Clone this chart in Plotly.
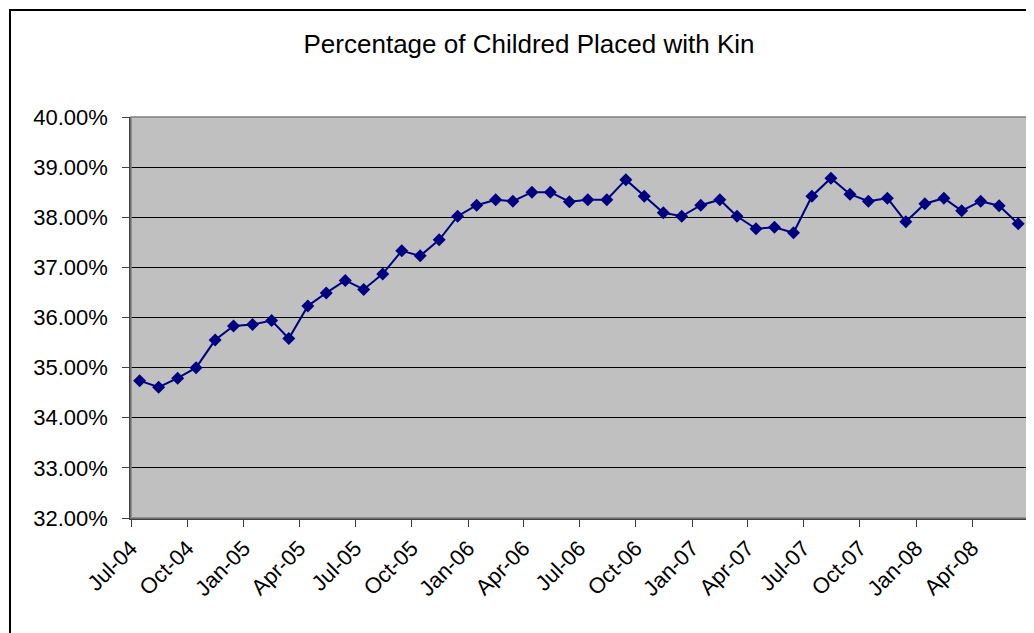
import plotly.graph_objs as go

# monthly data points (plotted mid-month on a date axis)
months = [
    '2004-07', '2004-08', '2004-09', '2004-10', '2004-11', '2004-12',
    '2005-01', '2005-02', '2005-03', '2005-04', '2005-05', '2005-06',
    '2005-07', '2005-08', '2005-09', '2005-10', '2005-11', '2005-12',
    '2006-01', '2006-02', '2006-03', '2006-04', '2006-05', '2006-06',
    '2006-07', '2006-08', '2006-09', '2006-10', '2006-11', '2006-12',
    '2007-01', '2007-02', '2007-03', '2007-04', '2007-05', '2007-06',
    '2007-07', '2007-08', '2007-09', '2007-10', '2007-11', '2007-12',
    '2008-01', '2008-02', '2008-03', '2008-04', '2008-05', '2008-06',
]
pct_kin = [
    0.3474, 0.3461, 0.3479, 0.3500, 0.3555, 0.3583,
    0.3586, 0.3594, 0.3558, 0.3623, 0.3649, 0.3674,
    0.3656, 0.3687, 0.3733, 0.3723, 0.3755, 0.3802,
    0.3824, 0.3835, 0.3832, 0.3850, 0.3850, 0.3831,
    0.3835, 0.3835, 0.3875, 0.3842, 0.3809, 0.3802,
    0.3824, 0.3835, 0.3802, 0.3777, 0.3780, 0.3769,
    0.3842, 0.3878, 0.3846, 0.3832, 0.3838, 0.3791,
    0.3827, 0.3838, 0.3813, 0.3832, 0.3823, 0.3787,
]

tick_dates = ['2004-07-01', '2004-10-01', '2005-01-01', '2005-04-01', '2005-07-01',
              '2005-10-01', '2006-01-01', '2006-04-01', '2006-07-01', '2006-10-01',
              '2007-01-01', '2007-04-01', '2007-07-01', '2007-10-01', '2008-01-01',
              '2008-04-01']
tick_labels = ['Jul-04', 'Oct-04', 'Jan-05', 'Apr-05', 'Jul-05', 'Oct-05', 'Jan-06',
               'Apr-06', 'Jul-06', 'Oct-06', 'Jan-07', 'Apr-07', 'Jul-07', 'Oct-07',
               'Jan-08', 'Apr-08']

FONT = 'Liberation Sans, Arial, sans-serif'
NAVY = '#000080'

# page has an 8px body margin, so the figure is 8px smaller than the window
W, H = 1026, 625

fig = go.Figure()
fig.add_trace(go.Scatter(
    x=[m + '-15' for m in months],
    y=pct_kin,
    mode='lines+markers',
    line=dict(color=NAVY, width=2),
    marker=dict(symbol='diamond', size=10, color=NAVY),
    showlegend=False
))

# outer chart frame + plot area border
fig.add_shape(type='rect', xref='paper', yref='paper',
              x0=-0.1349, x1=1.2, y0=-0.5, y1=1.267,
              line=dict(color='black', width=2), layer='above')
fig.add_shape(type='rect', xref='paper', yref='paper',
              x0=0, x1=1, y0=0, y1=1,
              line=dict(color='#808080', width=1.5), layer='above')

fig.update_layout(
    width=W, height=H,
    title=dict(text='Percentage of Childred Placed with Kin',
               x=521 / W, xanchor='center', xref='container',
               y=1 - 36 / H, yanchor='middle', yref='container',
               font=dict(family=FONT, size=26, color='black')),
    font=dict(family=FONT, size=22, color='black'),
    paper_bgcolor='white',
    plot_bgcolor='#C0C0C0',
    margin={'l': 123, 'r': 6, 't': 109, 'b': 115},
    xaxis=dict(
        type='date',
        range=['2004-07-01', '2008-07-01'],
        tickmode='array', tickvals=tick_dates, ticktext=tick_labels,
        tickangle=-45,
        ticks='outside', ticklen=7, tickcolor='#404040',
        minor=dict(tickmode='linear', tick0='2004-07-01', dtick='M3',
                   ticks='outside', ticklen=7, tickcolor='#404040'),
        showgrid=False, zeroline=False,
        showline=True, linecolor='#404040', linewidth=1.5,
        tickfont=dict(family=FONT, size=22, color='black'),
    ),
    yaxis=dict(
        range=[0.32, 0.40], dtick=0.01, tickformat='.2%',
        ticks='outside', ticklen=7, tickcolor='#404040',
        ticklabelstandoff=10,
        showgrid=True, gridcolor='black', gridwidth=1,
        zeroline=False,
        showline=True, linecolor='#404040', linewidth=1.5,
        tickfont=dict(family=FONT, size=22, color='black'),
    ),
)

fig.write_html('out.html')
